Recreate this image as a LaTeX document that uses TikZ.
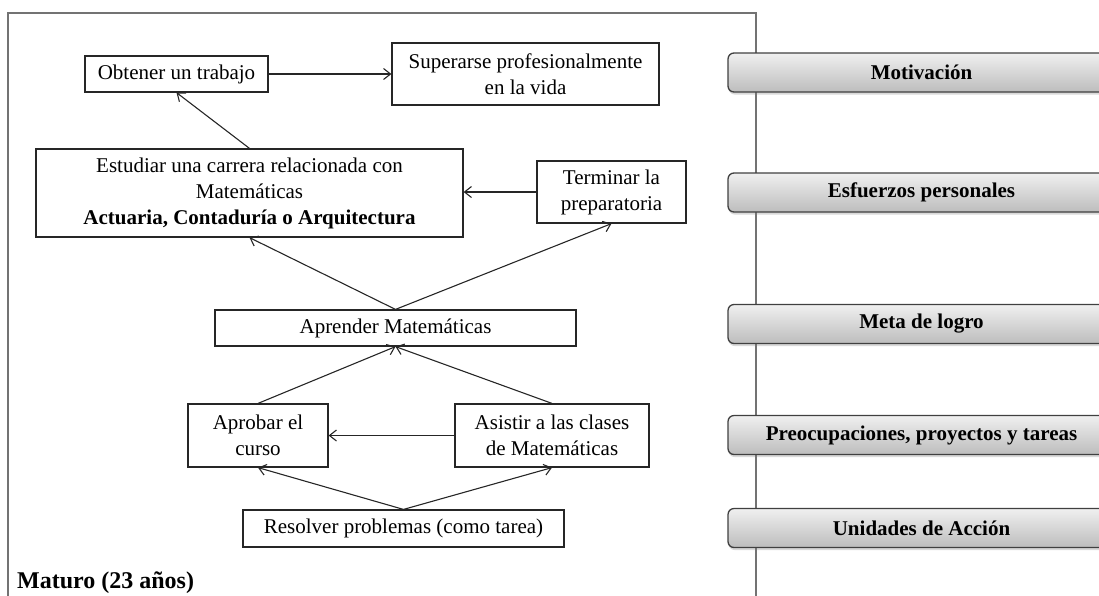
\documentclass[tikz,border=0pt]{standalone}
\usepackage{fontspec}
\setmainfont{Liberation Serif}
\usetikzlibrary{arrows.meta,shadows}
\begin{document}
\begin{tikzpicture}[x=1pt,y=-1pt,
 box/.style={draw=black!85,line width=1.2pt,inner sep=0pt,align=center,font=\fontsize{21}{26}\selectfont},
 bar/.style={draw=black!75,line width=1.3pt,rounded corners=6pt,top color=black!6,bottom color=black!26,minimum width=387pt,minimum height=39pt,inner sep=0pt,font=\fontsize{21}{25}\selectfont\bfseries,drop shadow={shadow xshift=0.5pt,shadow yshift=-2.5pt,opacity=0.3}},
 conn/.style={line width=1.1pt,draw=black!85,-{Straight Barb[length=7pt,width=11pt]}},
 frame/.style={draw=black!55,line width=1.3pt},
]
\useasboundingbox (0,0) rectangle (1099,595);
\clip (0,0) rectangle (1099,595);
% outer frame
\draw[frame] (8,600) -- (8,13) -- (756,13) -- (756,600);
% boxes
\node[box,minimum width=183pt,minimum height=36pt] (obt) at (176.5,74) {Obtener un trabajo};
\node[box,minimum width=267pt,minimum height=62pt] (sup) at (525.5,74) {Superarse profesionalmente\\en la vida};
\node[box,minimum width=427pt,minimum height=88pt] (est) at (249.5,193) {Estudiar una carrera relacionada con\\Matemáticas\\\textbf{Actuaria, Contaduría o Arquitectura}};
\node[box,minimum width=149pt,minimum height=62pt] (ter) at (611.5,192) {Terminar la\\preparatoria};
\node[box,minimum width=361pt,minimum height=36pt] (apr) at (395.5,328) {Aprender Matemáticas};
\node[box,minimum width=140pt,minimum height=63pt] (apb) at (258,435.5) {Aprobar el\\curso};
\node[box,minimum width=194pt,minimum height=63pt] (asi) at (552,435.5) {Asistir a las clases\\de Matemáticas};
\node[box,minimum width=321pt,minimum height=37pt] (res) at (403.5,528.5) {Resolver problemas (como tarea)};
% connectors
\draw[conn] (obt.east) -- (sup.west);
\draw[conn] (est.north) -- (obt.south);
\draw[conn] (ter.west) -- (ter.west -| est.east);
\draw[conn] (apr.north) -- (est.south);
\draw[conn] (apr.north) -- (ter.south);
\draw[conn] (apb.north) -- (apr.south);
\draw[conn] (asi.north) -- (apr.south);
\draw[conn] (asi.west) -- (apb.east);
\draw[conn] (res.north) -- (apb.south);
\draw[conn] (res.north) -- (asi.south);
% right-hand bars
\node[bar] (b1) at (921.5,72.5) {Motivación};
\node[bar] (b2) at (921.5,192.5) {Esfuerzos personales};
\node[bar] (b3) at (921.5,324) {Meta de logro};
\node[bar] (b4) at (921.5,435) {Preocupaciones, proyectos y tareas};
\node[bar] (b5) at (921.5,528) {Unidades de Acción};
% title
\node[anchor=base west,inner sep=0pt,font=\fontsize{24}{28}\selectfont\bfseries] (mat) at (17,588) {Maturo (23 años)};
\end{tikzpicture}
\end{document}
